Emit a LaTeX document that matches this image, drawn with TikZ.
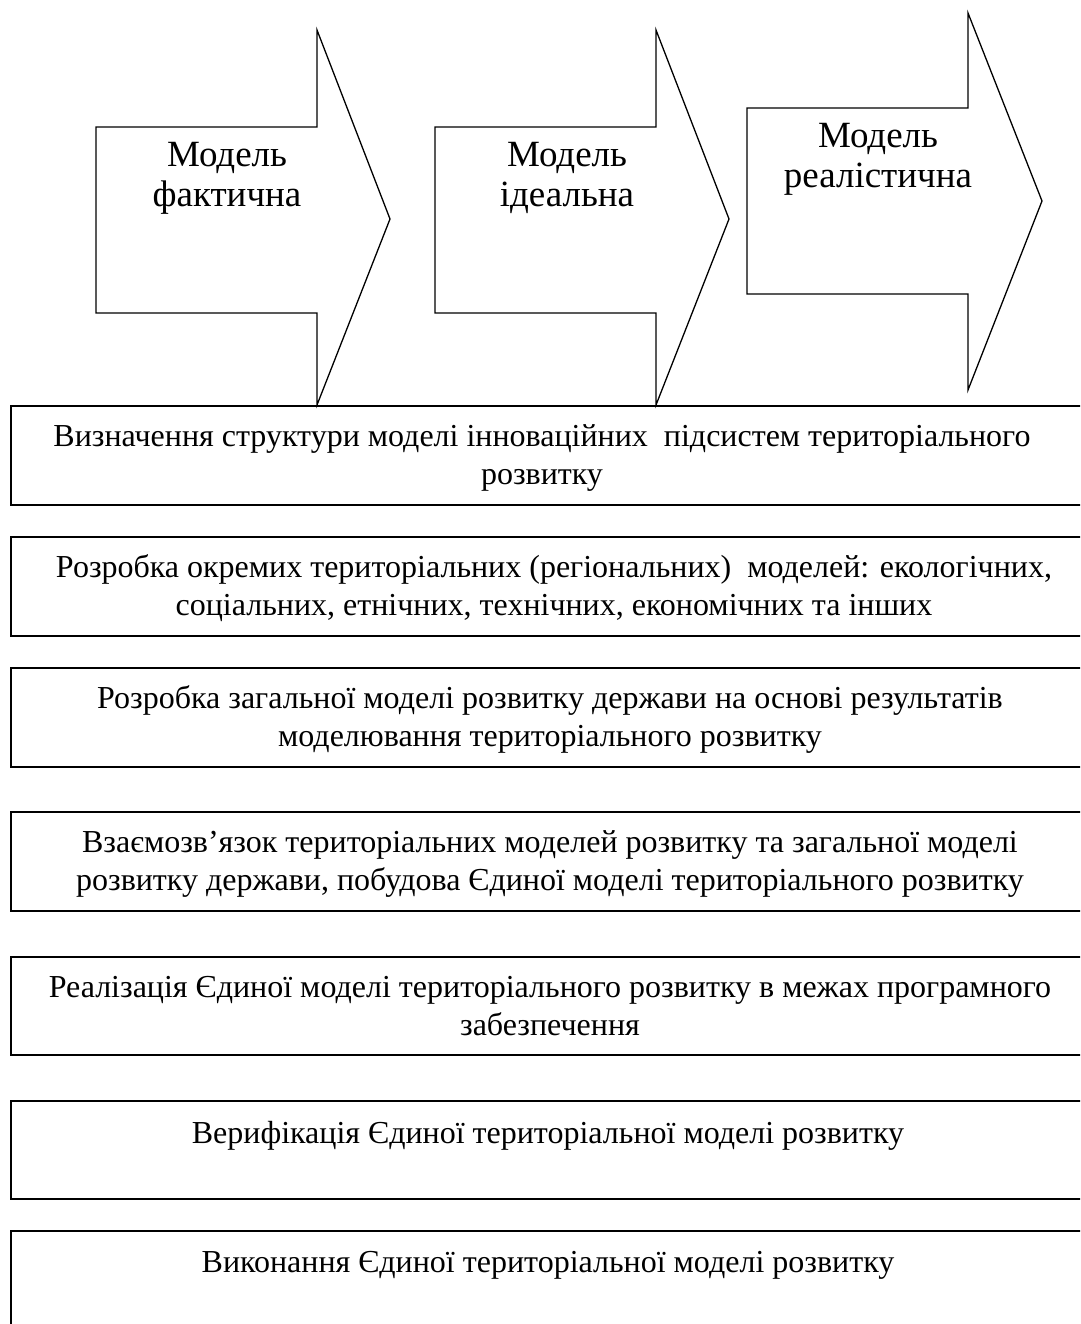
\documentclass[tikz,border=0pt]{standalone}
\usepackage{fontspec}
\setmainfont{Liberation Serif}
\begin{document}
\begin{tikzpicture}[x=1pt,y=-1pt,
  arrowshape/.style={draw, line width=1.3pt, line join=miter},
  boxstyle/.style={draw, line width=1.8pt},
  boxtext/.style={font=\fontsize{32}{38}\selectfont, align=center, anchor=base, inner sep=0pt},
  arrtext/.style={font=\fontsize{37}{40}\selectfont, align=center, anchor=base, inner sep=0pt}]
\clip (0,0) rectangle (1080,1324);
% arrows
\draw[arrowshape] (96,127) -- (317,127) -- (317,30) -- (390,219) -- (317,405) -- (317,313) -- (96,313) -- cycle;
\draw[arrowshape] (435,127) -- (656,127) -- (656,30) -- (729,219) -- (656,405) -- (656,313) -- (435,313) -- cycle;
\draw[arrowshape] (747,108) -- (968,108) -- (968,13) -- (1042,201) -- (968,390) -- (968,294) -- (747,294) -- cycle;
\node[arrtext] (a1) at (227,207) {Модель\\фактична};
\node[arrtext] (a2) at (567,207) {Модель\\ідеальна};
\node[arrtext] (a3) at (878,188) {Модель\\реалістична};
% boxes
\draw[boxstyle] (11,406) rectangle (1092,505);
\draw[boxstyle] (11,537) rectangle (1092,636);
\draw[boxstyle] (11,668) rectangle (1092,767);
\draw[boxstyle] (11,812) rectangle (1092,911);
\draw[boxstyle] (11,957) rectangle (1092,1055);
\draw[boxstyle] (11,1101) rectangle (1092,1199);
\draw[boxstyle] (11,1231) rectangle (1092,1350);
\node[boxtext] (t1) at (542,484) {Визначення структури моделі інноваційних~ підсистем територіального\\розвитку};
\node[boxtext] (t2) at (554,615) {Розробка окремих територіальних (регіональних)~ моделей: екологічних,\\соціальних, етнічних, технічних, економічних та інших};
\node[boxtext] (t3) at (550,746) {Розробка загальної моделі розвитку держави на основі результатів\\моделювання територіального розвитку};
\node[boxtext] (t4) at (550,890) {Взаємозв’язок територіальних моделей розвитку та загальної моделі\\розвитку держави, побудова Єдиної моделі територіального розвитку};
\node[boxtext] (t5) at (550,1035) {Реалізація Єдиної моделі територіального розвитку в межах програмного\\забезпечення};
\node[boxtext] (t6) at (548,1143) {Верифікація Єдиної територіальної моделі розвитку};
\node[boxtext] (t7) at (548,1272) {Виконання Єдиної територіальної моделі розвитку};
\end{tikzpicture}
\end{document}
